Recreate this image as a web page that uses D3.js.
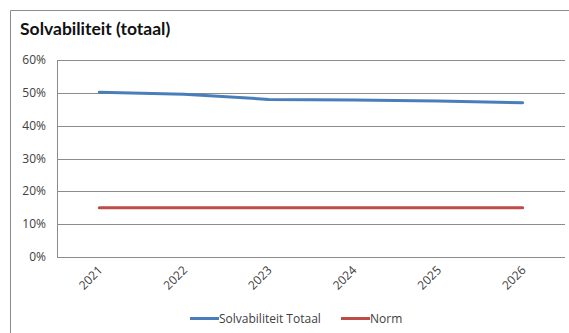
<!DOCTYPE html>
<html>
<head>
<meta charset="utf-8">
<script src="https://cdn.jsdelivr.net/npm/d3@7"></script>
<style>
  html, body { margin: 0; padding: 0; background: #fff; }
  svg { display: block; font-family: "Open Sans", "Lato", sans-serif; }
</style>
</head>
<body>
<svg id="chart" width="569" height="333"></svg>
<script>
// Solvency ratio per year versus the required norm
const years = ["2021", "2022", "2023", "2024", "2025", "2026"];
const solvabiliteit = [0.502, 0.496, 0.480, 0.478, 0.475, 0.470];
const norm = [0.15, 0.15, 0.15, 0.15, 0.15, 0.15];
const yTicks = [0, 0.1, 0.2, 0.3, 0.4, 0.5, 0.6];
const seriesNames = ["Solvabiliteit Totaal", "Norm"];
const seriesColors = ["#4a7ebb", "#be4b48"];

const svg = d3.select("#chart");
const plot = { left: 57, right: 565, top: 60, bottom: 257 };

// Outer frame (left and top edges)
svg.append("path")
  .attr("d", "M10.5,333 V10.5 H569")
  .attr("fill", "none")
  .attr("stroke", "#8c8c8c")
  .attr("stroke-width", 1);

svg.append("text")
  .attr("x", 20).attr("y", 35)
  .attr("font-family", "Lato, 'Open Sans', sans-serif")
  .attr("font-size", 17.5).attr("font-weight", "bold")
  .attr("fill", "#111")
  .text("Solvabiliteit (totaal)");

const x = d3.scaleBand().domain(years).range([plot.left, plot.right]);
const y = d3.scaleLinear().domain([0, 0.6]).range([plot.bottom, plot.top]);

// Horizontal gridlines
svg.append("g")
  .selectAll("line").data(yTicks).join("line")
  .attr("x1", plot.left).attr("x2", plot.right)
  .attr("y1", d => Math.round(y(d)) + 0.5).attr("y2", d => Math.round(y(d)) + 0.5)
  .attr("stroke", "#8c8c8c").attr("stroke-width", 1);

// Vertical axis line
svg.append("line")
  .attr("x1", plot.left + 0.5).attr("x2", plot.left + 0.5)
  .attr("y1", Math.round(y(0.6)) + 0.5).attr("y2", Math.round(y(0)) + 0.5)
  .attr("stroke", "#8c8c8c");

// Y labels
svg.append("g")
  .selectAll("text").data(yTicks).join("text")
  .attr("x", 46).attr("y", d => y(d) + 4)
  .attr("text-anchor", "end")
  .attr("font-size", 12).attr("fill", "#404040")
  .text(d => d3.format(".0%")(d));

// X labels rotated
svg.append("g")
  .selectAll("text").data(years).join("text")
  .attr("transform", d => `translate(${x(d) + x.bandwidth() / 2 + 4},${plot.bottom + 14}) rotate(-45)`)
  .attr("text-anchor", "end")
  .attr("font-size", 12).attr("fill", "#404040")
  .text(d => d);

const line = d3.line()
  .x((d, i) => x(years[i]) + x.bandwidth() / 2)
  .y(d => y(d));

[solvabiliteit, norm].forEach((s, i) => {
  svg.append("path")
    .datum(s)
    .attr("d", line)
    .attr("fill", "none")
    .attr("stroke", seriesColors[i])
    .attr("stroke-width", 3)
    .attr("stroke-linecap", "round")
    .attr("stroke-linejoin", "round");
});

// Legend
const legendItems = [
  { name: seriesNames[0], color: seriesColors[0], x: 190 },
  { name: seriesNames[1], color: seriesColors[1], x: 341 }
];
const lg = svg.append("g");
legendItems.forEach(it => {
  lg.append("line")
    .attr("x1", it.x).attr("x2", it.x + 29)
    .attr("y1", 318.5).attr("y2", 318.5)
    .attr("stroke", it.color).attr("stroke-width", 3);
  lg.append("text")
    .attr("x", it.x + 29).attr("y", 322.5)
    .attr("font-size", 12).attr("fill", "#404040")
    .text(it.name);
});
</script>
</body>
</html>
